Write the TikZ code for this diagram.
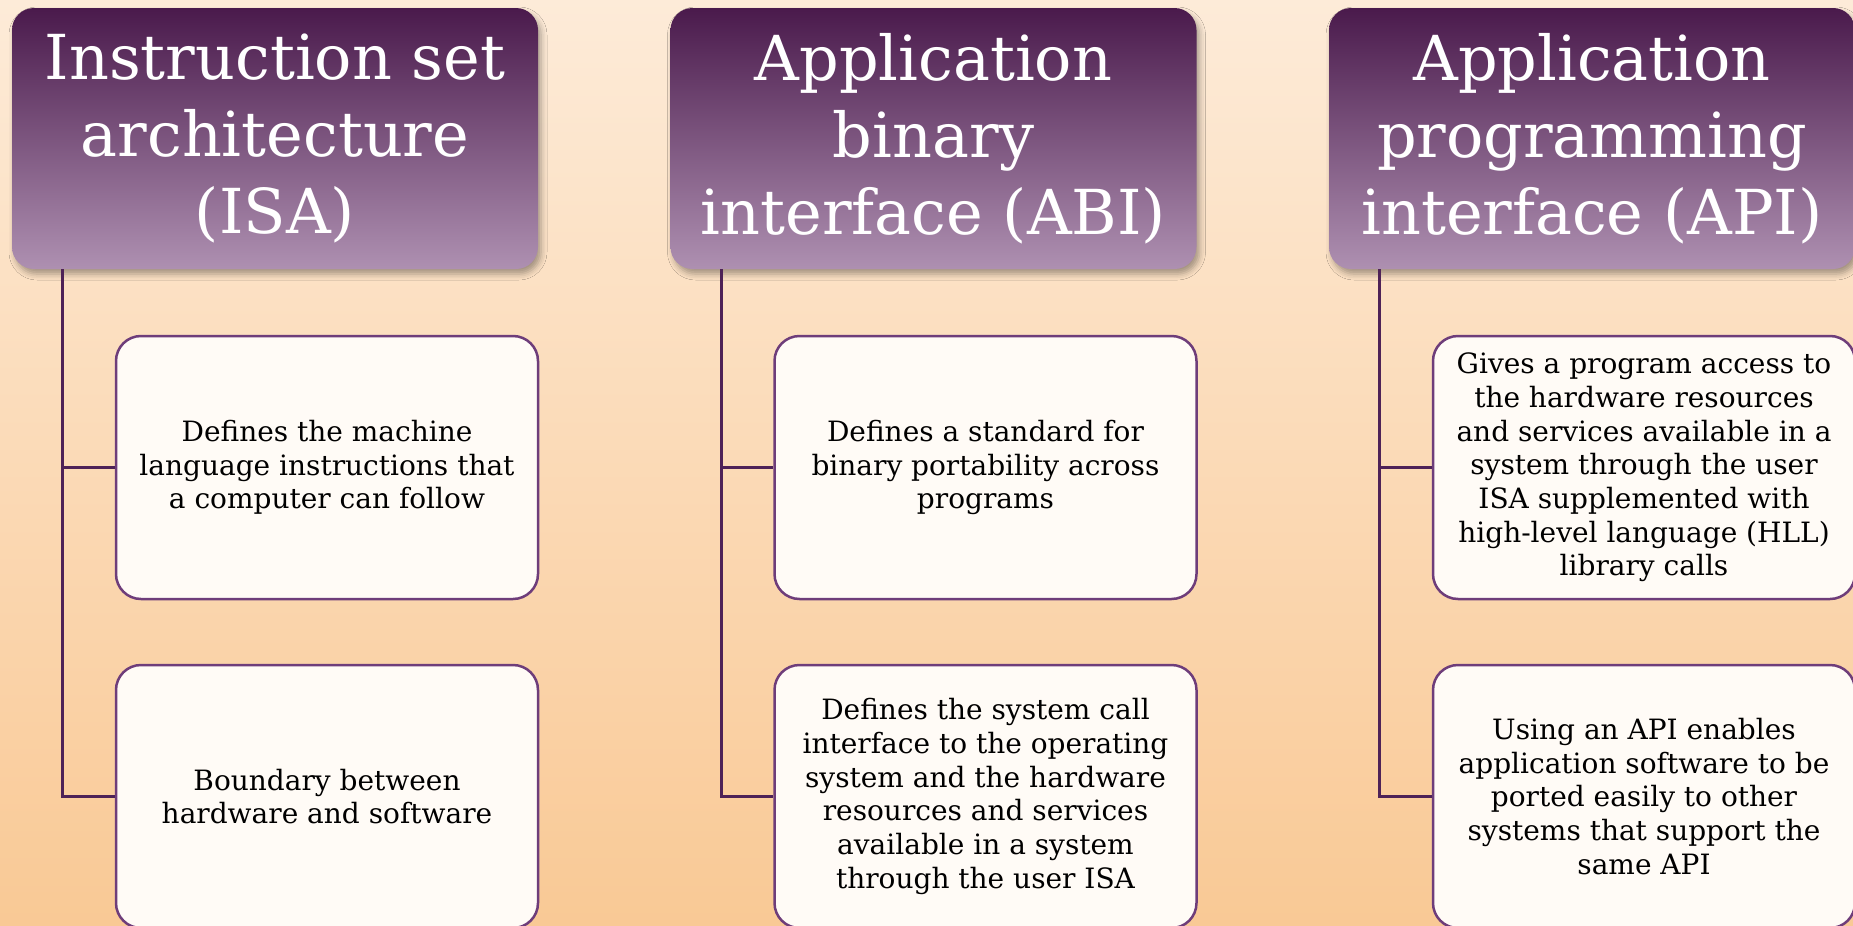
\documentclass[tikz,border=0pt]{standalone}
\usepackage{fontspec}
\setmainfont{DejaVu Serif}
\usetikzlibrary{shadows.blur}
\definecolor{pdunkel}{HTML}{4A1A4C}
\definecolor{phell}{HTML}{AE90B1}
\definecolor{prand}{HTML}{6E3D7A}
\definecolor{plinie}{HTML}{4E2257}
\definecolor{boxweiss}{HTML}{FFFBF6}
\definecolor{bgoben}{HTML}{FDEBD8}
\definecolor{bgunten}{HTML}{F9C995}

\begin{document}
\begin{tikzpicture}[x=1pt, y=-1pt,
        head/.style={rectangle, rounded corners=22pt, top color=pdunkel, bottom color=phell, text=white, align=center, minimum width=526pt, minimum height=261pt, inner sep=0pt, font=\fontsize{62}{77}\selectfont, blur shadow={shadow xshift=3pt, shadow yshift=-5pt, shadow blur radius=6pt, shadow opacity=35}},
        item/.style={draw=prand, line width=2.5pt, rectangle, rounded corners=25pt, fill=boxweiss, align=center, minimum width=422pt, minimum height=263pt, inner sep=0pt, font=\fontsize{28}{33.7}\selectfont},
        link/.style={draw=plinie, line width=3.2pt}]
        \clip (0, 0) rectangle (1853, 926);
        \shade[top color=bgoben, bottom color=bgunten] (0, 0) rectangle (1853, 926);

        \node[head] (ISA) at (275, 138.5) {Instruction set\\architecture\\(ISA)};

        \node[head] (ABI) at (933.5, 138.5) {Application\\binary\\interface (ABI)};

        \node[head] (API) at (1592, 138.5) {Application\\programming\\interface (API)};

        \node[item] (ISAa) at (327, 467.5) {Defines the machine\\language instructions that\\a computer can follow};

        \node[item] (ISAb) at (327, 796.5) {Boundary between\\hardware and software};

        \node[item] (ABIa) at (985.5, 467.5) {Defines a standard for\\binary portability across\\programs};

        \node[item] (ABIb) at (985.5, 796.5) {Defines the system call\\interface to the operating\\system and the hardware\\resources and services\\available in a system\\through the user ISA};

        \node[item] (APIa) at (1644, 467.5) {Gives a program access to\\the hardware resources\\and services available in a\\system through the user\\ISA supplemented with\\high-level language (HLL)\\library calls};

        \node[item] (APIb) at (1644, 796.5) {Using an API enables\\application software to be\\ported easily to other\\systems that support the\\same API};

        \coordinate (ISAt) at ([xshift=51pt]ISA.south west);
        \coordinate (ABIt) at ([xshift=51pt]ABI.south west);
        \coordinate (APIt) at ([xshift=51pt]API.south west);

        \path[link] (ISAt) |- (ISAa.west);
        \path[link] (ISAt) |- (ISAb.west);
        \path[link] (ABIt) |- (ABIa.west);
        \path[link] (ABIt) |- (ABIb.west);
        \path[link] (APIt) |- (APIa.west);
        \path[link] (APIt) |- (APIb.west);

    \end{tikzpicture}
\end{document}
